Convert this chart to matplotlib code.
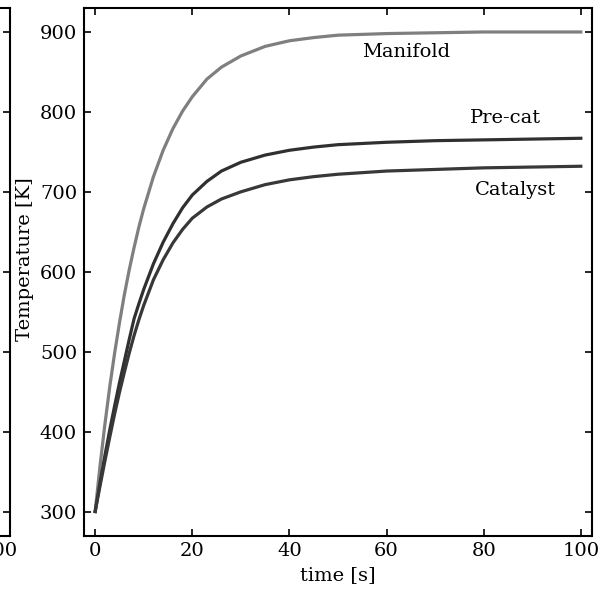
import matplotlib.pyplot as plt

plt.rcParams['font.family'] = ['DejaVu Serif']

# time [s]
t = [0, 1, 2, 3, 4, 5, 6, 7, 8, 9, 10, 12, 14, 16, 18, 20, 23, 26, 30, 35,
     40, 45, 50, 60, 70, 80, 90, 100]
# temperatures [K]
manifold = [300, 357, 409, 456, 498, 536, 571, 602, 630, 656, 679, 719, 752, 779,
            801, 819, 841, 856, 870, 882, 889, 893, 896, 898, 899, 900, 900, 900]
precat = [300, 336, 370, 402, 432, 461, 488, 515, 541, 560, 578, 610, 637, 660,
          680, 696, 713, 726, 737, 746, 752, 756, 759, 762, 764, 765, 766, 767]
catalyst = [300, 332, 363, 393, 422, 449, 474, 498, 520, 540, 558, 590, 615, 636,
            653, 667, 681, 691, 700, 709, 715, 719, 722, 726, 728, 730, 731, 732]

labels = ['Manifold', 'Pre-cat', 'Catalyst']
label_pos = [(64, 875), (84.5, 792), (86.5, 702)]

W, H = 603, 598
fig = plt.figure(figsize=(W / 100, H / 100), dpi=100)


def style(ax):
    ax.tick_params(direction='in', length=5, width=1.2, labelsize=14,
                   top=True, right=True, pad=5)
    for s in ax.spines.values():
        s.set_linewidth(1.5)


# cut-off neighbour panel on the left
ax0 = fig.add_axes([(10 - 508) / W, 1 - 535.5 / H, 508 / W, 527.5 / H])
ax0.set_xlim(-2.3, 102.3)
ax0.set_ylim(270, 930)
ax0.set_xticks([0, 20, 40, 60, 80, 100])
ax0.set_yticks(range(300, 901, 100))
ax0.set_yticklabels([])
style(ax0)

ax = fig.add_axes([84 / W, 1 - 535.5 / H, 508 / W, 527.5 / H])
ax.plot(t, manifold, color='#7f7f7f', lw=2.3)
ax.plot(t, precat, color='#303030', lw=2.3)
ax.plot(t, catalyst, color='#383838', lw=2.3)
for txt, (x, y) in zip(labels, label_pos):
    ax.text(x, y, txt, fontsize=14, ha='center', va='center')
ax.set_xlim(-2.3, 102.3)
ax.set_ylim(270, 930)
ax.set_xticks([0, 20, 40, 60, 80, 100])
ax.set_yticks(range(300, 901, 100))
ax.set_xlabel('time [s]', fontsize=14, labelpad=4)
ax.set_ylabel('Temperature [K]', fontsize=14)
ax.yaxis.set_label_coords(-0.098, 0.524)
style(ax)

fig.savefig('out.png', dpi=100)
